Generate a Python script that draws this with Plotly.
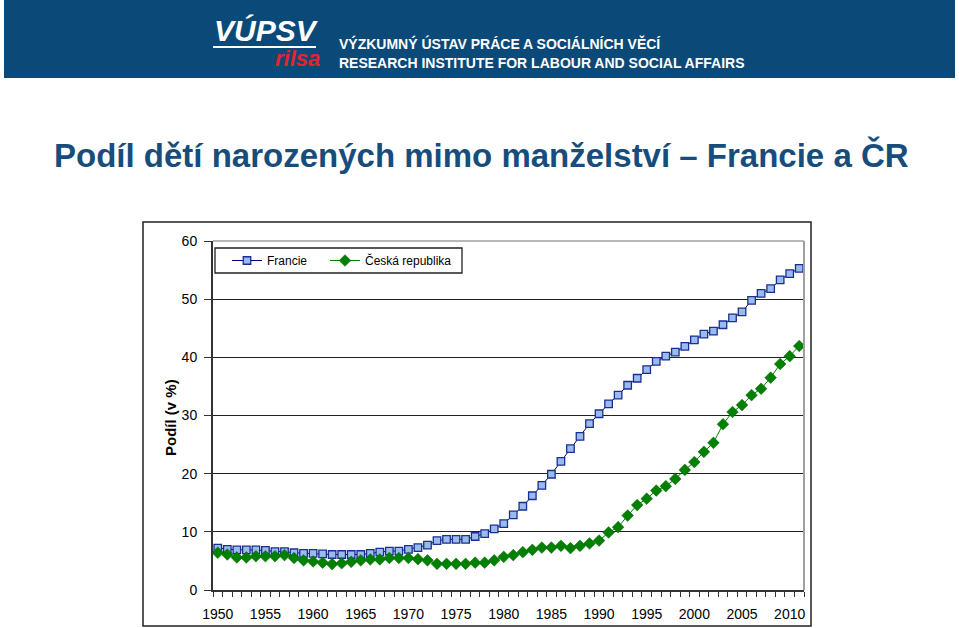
import plotly.graph_objects as go

years = list(range(1950, 2012))
francie = [7.2, 7.0, 6.9, 6.9, 6.9, 6.8, 6.6, 6.6, 6.4, 6.3,
           6.3, 6.2, 6.1, 6.1, 6.1, 6.1, 6.3, 6.5, 6.7, 6.7,
           7.0, 7.3, 7.7, 8.5, 8.7, 8.7, 8.7, 9.2, 9.7, 10.5,
           11.4, 12.9, 14.4, 16.2, 18.0, 19.9, 22.1, 24.3, 26.4, 28.6,
           30.3, 32.0, 33.5, 35.2, 36.4, 37.9, 39.3, 40.2, 40.9, 41.9,
           43.0, 44.0, 44.5, 45.6, 46.8, 47.8, 49.8, 51.0, 51.8, 53.3,
           54.4, 55.3]
cr = [6.4, 6.1, 5.6, 5.6, 5.8, 5.8, 5.8, 6.0, 5.5, 5.1,
      4.9, 4.7, 4.45, 4.6, 4.85, 5.1, 5.25, 5.25, 5.5, 5.5,
      5.5, 5.3, 5.1, 4.5, 4.5, 4.5, 4.5, 4.7, 4.7, 5.1,
      5.7, 6.0, 6.5, 6.9, 7.3, 7.3, 7.6, 7.2, 7.6, 8.0,
      8.5, 9.9, 10.8, 12.8, 14.6, 15.7, 17.1, 17.85, 19.1, 20.65,
      22.0, 23.75, 25.3, 28.5, 30.6, 31.8, 33.5, 34.6, 36.5, 38.85,
      40.2, 41.95]
x_labels = [1950, 1955, 1960, 1965, 1970, 1975, 1980, 1985, 1990, 1995, 2000, 2005, 2010]
y_ticks = [0, 10, 20, 30, 40, 50, 60]

W, H = 959, 628
L, R, T, B = 213, 804, 241, 590  # plot area in pixels


def px(x):
    return (x - L) / (R - L)


def py(y):
    return (B - y) / (B - T)


fig = go.Figure()
fig.add_trace(go.Scatter(
    x=years, y=francie, name="Francie", mode="lines+markers", legend="legend",
    line=dict(color="#000080", width=1),
    marker=dict(symbol="square", size=7.5, color="#99bbee",
                line=dict(color="#1a2f8f", width=1.3)),
))
fig.add_trace(go.Scatter(
    x=years, y=cr, name="Česká republika", mode="lines+markers", legend="legend2",
    line=dict(color="#008000", width=1),
    marker=dict(symbol="diamond", size=9, color="#008000",
                line=dict(color="#006400", width=0.5)),
))

font_main = "Arial, Liberation Sans, sans-serif"

shapes = [
    # banner
    dict(type="rect", xref="paper", yref="paper", x0=px(4), x1=px(955), y0=py(0), y1=py(78),
         fillcolor="#0b4a78", line=dict(width=0), layer="below"),
    # underline in logo
    dict(type="line", xref="paper", yref="paper", x0=px(213), x1=px(316), y0=py(47), y1=py(47),
         line=dict(color="white", width=2)),
    # outer chart frame
    dict(type="rect", xref="paper", yref="paper", x0=px(143), x1=px(811), y0=py(222), y1=py(626),
         line=dict(color="#222222", width=1.5), layer="below"),
    # legend box
    dict(type="rect", xref="paper", yref="paper", x0=px(215), x1=px(462), y0=py(248), y1=py(273),
         fillcolor="white", line=dict(color="#222222", width=1.3), layer="below"),
    # plot area border top/right (gray)
    dict(type="line", xref="paper", yref="paper", x0=0, x1=1, y0=1, y1=1,
         line=dict(color="#a0a0a0", width=1.5)),
    dict(type="line", xref="paper", yref="paper", x0=1, x1=1, y0=0, y1=1,
         line=dict(color="#a0a0a0", width=2)),
]

annotations = [
    dict(text="<b><i>VÚPSV</i></b>", x=px(266), y=py(30), xref="paper", yref="paper",
         showarrow=False, font=dict(family=font_main, size=30, color="white"),
         xanchor="center", yanchor="middle"),
    dict(text="<b><i>rilsa</i></b>", x=px(297), y=py(59), xref="paper", yref="paper",
         showarrow=False, font=dict(family=font_main, size=22, color="#e3242b"),
         xanchor="center", yanchor="middle"),
    dict(text="<b>VÝZKUMNÝ ÚSTAV PRÁCE A SOCIÁLNÍCH VĚCÍ</b>", x=px(337), y=py(43),
         xref="paper", yref="paper", showarrow=False,
         font=dict(family=font_main, size=14, color="white"), xanchor="left", yanchor="middle"),
    dict(text="<b>RESEARCH INSTITUTE FOR LABOUR AND SOCIAL AFFAIRS</b>", x=px(337), y=py(63),
         xref="paper", yref="paper", showarrow=False,
         font=dict(family=font_main, size=14, color="white"), xanchor="left", yanchor="middle"),
    dict(text="<b>Podíl dětí narozených mimo manželství – Francie a ČR</b>",
         x=px(481), y=py(155), xref="paper", yref="paper", showarrow=False,
         font=dict(family=font_main, size=33, color="#174d7c"), xanchor="center", yanchor="middle"),
    dict(text="<b>Podíl (v %)</b>", x=px(170), y=py(418), xref="paper", yref="paper",
         showarrow=False, textangle=-90,
         font=dict(family=font_main, size=15, color="black"), xanchor="center", yanchor="middle"),
]

minor_vals = [y - 0.5 for y in years] + [years[-1] + 0.5]

legend_common = dict(orientation="h", yanchor="middle", xanchor="left",
                     borderwidth=0, bgcolor="rgba(0,0,0,0)",
                     font=dict(family=font_main, size=12, color="black"),
                     itemwidth=30, tracegroupgap=0)

fig.update_layout(
    width=W, height=H,
    margin=dict(l=L, r=W - R, t=T, b=H - B, pad=0),
    paper_bgcolor="white", plot_bgcolor="white",
    shapes=shapes, annotations=annotations,
    font=dict(family=font_main, color="black"),
    showlegend=True,
    legend=dict(x=px(227), y=py(260.5), **legend_common),
    legend2=dict(x=px(325), y=py(260.5), **legend_common),
    xaxis=dict(
        range=[years[0] - 0.5, years[-1] + 0.5], tickmode="array", tickvals=x_labels,
        ticks="", showgrid=False, zeroline=False,
        showline=True, linecolor="#333333", linewidth=2,
        tickfont=dict(size=14, family=font_main, color="black"),
        ticklabelstandoff=10, automargin=False,
        minor=dict(tickmode="array", tickvals=minor_vals, ticks="outside",
                   ticklen=5, tickcolor="#333333", tickwidth=1, showgrid=False),
    ),
    yaxis=dict(
        range=[0, 60], tickmode="array", tickvals=y_ticks,
        ticks="outside", ticklen=7, tickcolor="#333333", tickwidth=1,
        showgrid=True, gridcolor="#222222", gridwidth=1, zeroline=False,
        showline=True, linecolor="#333333", linewidth=2,
        tickfont=dict(size=14, family=font_main, color="black"),
        ticklabelstandoff=4, automargin=False,
    ),
)

fig.write_html("out.html")
